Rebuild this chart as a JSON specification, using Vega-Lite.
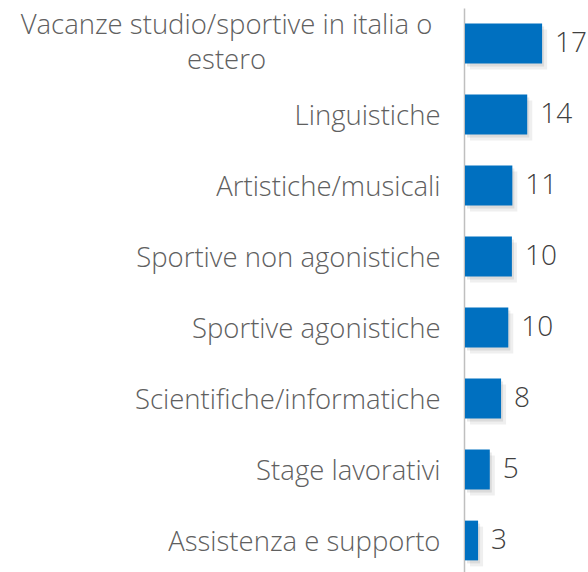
{
  "$schema": "https://vega.github.io/schema/vega-lite/v6.json",
  "autosize": "none",
  "width": 124,
  "height": 568,
  "padding": {"left": 464, "top": 8, "right": 0, "bottom": 0},
  "background": "white",
  "config": {"view": {"stroke": null}},
  "data": {
    "values": [
      {"cat": "Vacanze studio/sportive in italia o estero", "value": 17.1, "label": "17"},
      {"cat": "Linguistiche\u00a0", "value": 13.8, "label": "14"},
      {"cat": "Artistiche/musicali\u00a0", "value": 10.5, "label": "11"},
      {"cat": "Sportive non agonistiche", "value": 10.4, "label": "10"},
      {"cat": "Sportive agonistiche", "value": 9.6, "label": "10"},
      {"cat": "Scientifiche/informatiche", "value": 8.0, "label": "8"},
      {"cat": "Stage lavorativi", "value": 5.5, "label": "5"},
      {"cat": "Assistenza e supporto", "value": 2.9, "label": "3"}
    ]
  },
  "encoding": {
    "y": {
      "field": "cat", "type": "nominal", "sort": null,
      "scale": {"paddingInner": 0.44, "paddingOuter": 0.22},
      "axis": {
        "title": null, "ticks": false, "domainColor": "#bfbfbf", "domainWidth": 1.5,
        "labelFont": "Open Sans", "labelFontWeight": 300, "labelFontSize": 27.5, "labelColor": "#606060",
        "labelLimit": 600, "labelLineHeight": 35,
        "labelExpr": "datum.value == 'Vacanze studio/sportive in italia o estero' ? ['Vacanze studio/sportive in italia o', 'estero'] : datum.value",
        "labelAlign": {"condition": {"test": "datum.value == 'Vacanze studio/sportive in italia o estero'", "value": "center"}, "value": "right"},
        "labelPadding": {"condition": {"test": "datum.value == 'Vacanze studio/sportive in italia o estero'", "value": 238}, "value": 24},
        "labelOffset": {"condition": {"test": "datum.value == 'Vacanze studio/sportive in italia o estero'", "value": -18}, "value": 2}
      }
    },
    "x": {
      "field": "value", "type": "quantitative",
      "scale": {"domain": [0, 27.5], "nice": false},
      "axis": null
    }
  },
  "layer": [
    {"mark": {"type": "bar", "color": "#7f7f7f", "opacity": 0.12, "xOffset": 6, "yOffset": 6}},
    {"mark": {"type": "bar", "color": "#7f7f7f", "opacity": 0.18, "xOffset": 3, "yOffset": 3}},
    {"mark": {"type": "bar", "color": "#0070C0", "xOffset": 1}},
    {
      "mark": {"type": "text", "align": "left", "baseline": "middle", "dx": 14, "font": "Open Sans", "fontWeight": 300, "fontSize": 28, "color": "#404040"},
      "encoding": {"text": {"field": "label"}}
    }
  ]
}
